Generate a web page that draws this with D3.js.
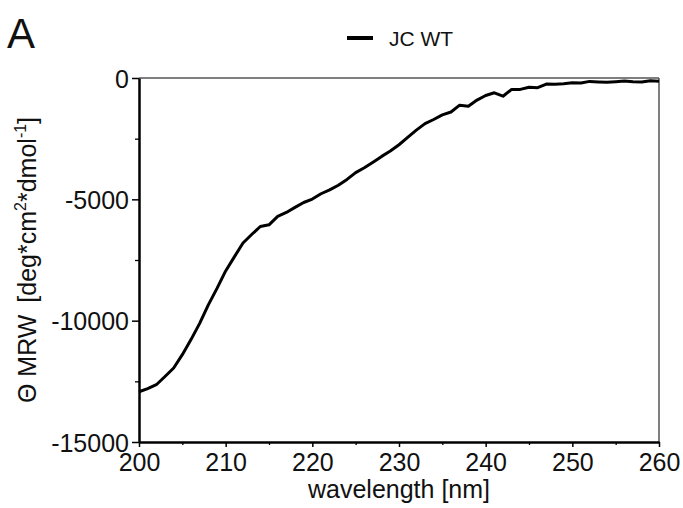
<!DOCTYPE html>
<html lang="en">
<head>
  <meta charset="UTF-8">
  <title>CD spectrum JC WT</title>
  <script src="https://d3js.org/d3.v7.min.js"></script>
  <style>
    body {
      margin: 0;
      background: #fff;
      font-family: "Liberation Sans", Arial, sans-serif;
    }
    .line {
      fill: none;
      stroke: #000;
      stroke-width: 3px;
      stroke-linejoin: round;
    }
    .tick text {
      font-family: "Liberation Sans", Arial, sans-serif;
      font-size: 25px;
      fill: #111;
    }
    .axis-label {
      font-size: 25px;
      fill: #111;
    }
  </style>
</head>
<body>
  <svg width="683" height="508"></svg>

  <script>
    // wavelength in nm, 1 nm steps
    const wavelength = d3.range(200, 261);
    // mean residue ellipticity
    const mrw = [
      -12930, -12800, -12640, -12300, -11950, -11400, -10780, -10110, -9350, -8670,
      -7950, -7370, -6800, -6450, -6120, -6050, -5700, -5540, -5330, -5130,
      -4990, -4770, -4610, -4420, -4180, -3900, -3700, -3470, -3230, -3010,
      -2750, -2450, -2150, -1880, -1710, -1520, -1400, -1120, -1160, -910,
      -720, -610, -750, -470, -470, -380, -400, -250, -260, -240,
      -200, -210, -140, -160, -175, -150, -125, -150, -165, -110,
      -130
    ];
    const seriesName = "JC WT";
    const xTicks = [200, 210, 220, 230, 240, 250, 260];
    const yTicks = [0, -5000, -10000, -15000];

    const data = wavelength.map((w, i) => ({w: w, v: mrw[i]}));

    const svg = d3.select("svg"),
          margin = {top: 78, right: 24, bottom: 66, left: 139},
          width = +svg.attr("width") - margin.left - margin.right,
          height = +svg.attr("height") - margin.top - margin.bottom;

    const g = svg.append("g").attr("transform", `translate(${margin.left},${margin.top})`);

    const x = d3.scaleLinear().domain([200, 260]).range([0, width]);
    const y = d3.scaleLinear().domain([-15000, 0]).range([height, 0]);

    // top and right frame
    g.append("line")
      .attr("x1", 0).attr("x2", width).attr("y1", 0).attr("y2", 0)
      .attr("stroke", "#555").attr("stroke-width", 1.5);
    g.append("line")
      .attr("x1", width).attr("x2", width).attr("y1", 0).attr("y2", height)
      .attr("stroke", "#555").attr("stroke-width", 1.5);

    // X minor ticks
    g.append("g")
      .attr("transform", `translate(0,${height})`)
      .call(d3.axisBottom(x).tickValues(d3.range(205, 260, 10)).tickSize(3).tickFormat(""))
      .call(a => a.select(".domain").remove())
      .selectAll("line").attr("stroke-width", 1.3);

    // X Axis
    const xa = g.append("g")
      .attr("transform", `translate(0,${height})`)
      .call(d3.axisBottom(x).tickValues(xTicks).tickSize(5).tickSizeOuter(0).tickPadding(6));
    xa.select(".domain").attr("stroke-width", 2.5);
    xa.selectAll(".tick line").attr("stroke-width", 1.5);

    // Y minor ticks
    g.append("g")
      .call(d3.axisLeft(y).tickValues([-2500, -7500, -12500]).tickSize(4).tickFormat(""))
      .call(a => a.select(".domain").remove())
      .selectAll("line").attr("stroke-width", 1.3);

    // Y Axis (plain hyphen as minus, like the original)
    const ya = g.append("g")
      .call(d3.axisLeft(y).tickValues(yTicks).tickSize(7).tickSizeOuter(0).tickPadding(3)
        .tickFormat(d => String(d)));
    ya.select(".domain").attr("stroke-width", 2.5);
    ya.selectAll(".tick line").attr("stroke-width", 1.5);
    ya.selectAll(".tick text").attr("dy", "0.36em");

    // Line Path
    const line = d3.line().x(d => x(d.w)).y(d => y(d.v));
    g.append("path")
      .datum(data)
      .attr("class", "line")
      .attr("d", line);

    // X Label
    svg.append("text")
      .attr("class", "axis-label")
      .attr("x", margin.left + width / 2)
      .attr("y", 498)
      .attr("font-size", 26)
      .attr("text-anchor", "middle")
      .text("wavelength [nm]");

    // Y Label
    const yl = svg.append("text")
      .attr("class", "axis-label")
      .attr("transform", `translate(36,260) rotate(-90)`)
      .attr("text-anchor", "middle");
    yl.append("tspan").text("\u0398 MRW");
    yl.append("tspan").attr("dx", 12).text("[deg*cm");
    yl.append("tspan").attr("font-size", 16).attr("dy", -10).text("2");
    yl.append("tspan").attr("dy", 10).text("*dmol");
    yl.append("tspan").attr("font-size", 16).attr("dy", -10).text("-1");
    yl.append("tspan").attr("dy", 10).text("]");

    // Panel letter
    svg.append("text")
      .attr("x", 7).attr("y", 48)
      .attr("font-size", 42)
      .attr("fill", "#111")
      .text("A");

    // Legend
    svg.append("line")
      .attr("x1", 347).attr("x2", 373).attr("y1", 38).attr("y2", 38)
      .attr("stroke", "#000").attr("stroke-width", 4);
    svg.append("text")
      .attr("x", 389).attr("y", 46)
      .attr("font-size", 21)
      .attr("fill", "#111")
      .text(seriesName);
  </script>
</body>
</html>
